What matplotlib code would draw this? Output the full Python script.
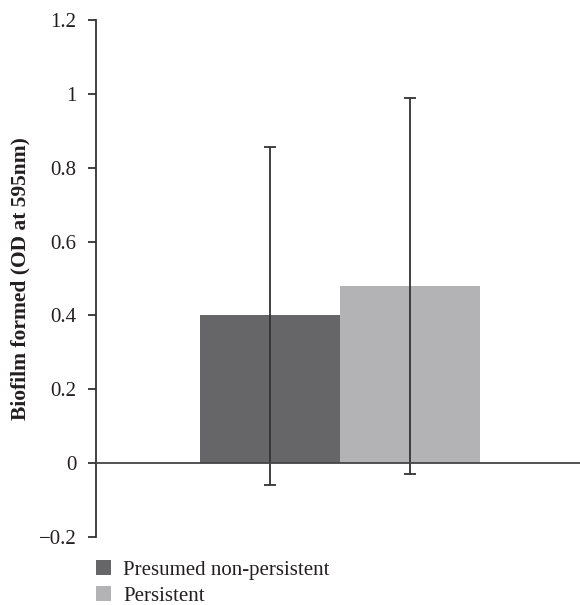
import matplotlib
matplotlib.use("Agg")
import matplotlib.pyplot as plt
from matplotlib.patches import Patch

# Дані
groups = ["Presumed non-persistent", "Persistent"]
means = [0.40, 0.48]
err_low = [0.46, 0.51]    # до -0.06 і -0.03
err_high = [0.455, 0.51]  # до 0.855 і 0.99
bar_colors = ["#666668", "#b3b3b6"]
yticks = [-0.2, 0, 0.2, 0.4, 0.6, 0.8, 1, 1.2]
ytick_labels = ["\u22120.2", "0", "0.2", "0.4", "0.6", "0.8", "1", "1.2"]

plt.rcParams["font.family"] = ["Liberation Serif", "DejaVu Serif"]
TEXT = "#231f20"
LINE = "#333333"

fig = plt.figure(figsize=(5.8, 6.05), dpi=100)
ax = fig.add_axes([0.1655, 0.1124, 0.8345, 0.8546])

x = list(range(len(groups)))
ax.bar(x, means, width=1.0, color=bar_colors, zorder=2)
ax.errorbar(x, means, yerr=[err_low, err_high], fmt="none", ecolor=LINE,
            elinewidth=1.3, capsize=4.3, capthick=1.3, zorder=3)
ax.axhline(0, color="#444444", linewidth=1.3, zorder=4)

ax.set_xlim(-1.243, 2.214)
ax.set_ylim(-0.2, 1.2)
ax.set_yticks(yticks)
ax.set_yticklabels(ytick_labels, fontsize=15, color=TEXT)
ax.set_xticks([])
for s in ["top", "right", "bottom"]:
    ax.spines[s].set_visible(False)
ax.spines["left"].set_color(LINE)
ax.spines["left"].set_linewidth(1.3)
ax.tick_params(axis="y", direction="out", length=6, width=1.3, color=LINE, pad=8)

ax.set_ylabel("Biofilm formed (OD at 595nm)", fontsize=15.5, fontweight="bold",
              color=TEXT, labelpad=6)

handles = [Patch(facecolor=c, edgecolor="none") for c in bar_colors]
fig.legend(handles, groups, loc="upper left", bbox_to_anchor=(0.165, 0.074),
           frameon=False, fontsize=15, handlelength=0.72, handleheight=0.72,
           handletextpad=0.6, labelspacing=0.3, borderpad=0, borderaxespad=0,
           labelcolor=TEXT)

fig.savefig("out.png", dpi=100)
